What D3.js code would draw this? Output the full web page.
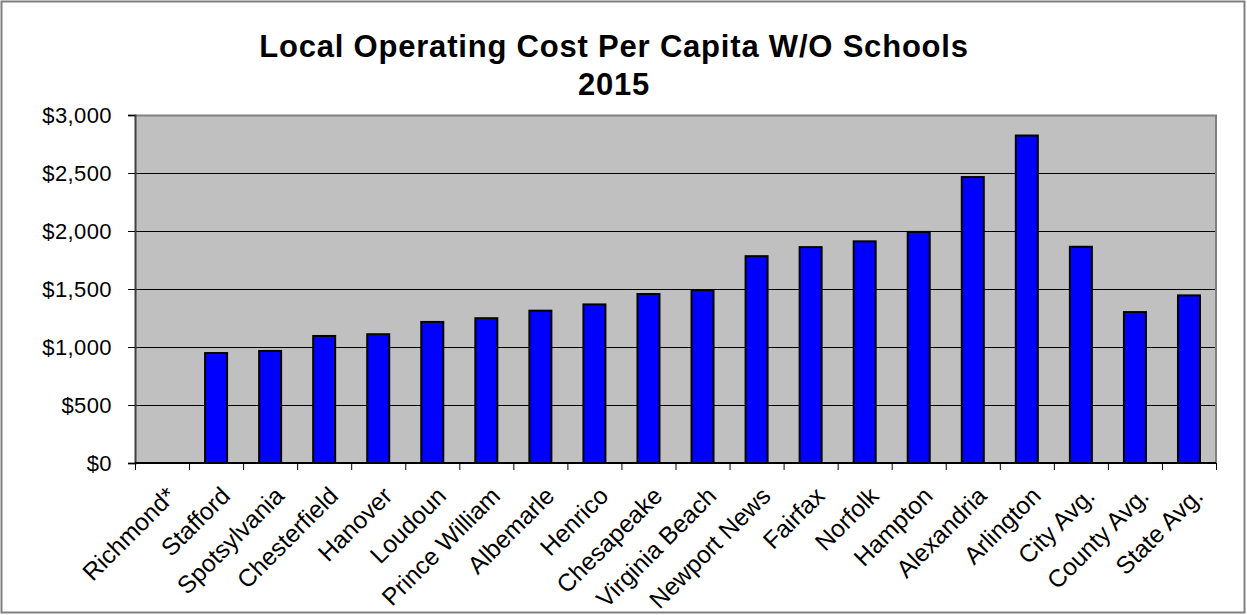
<!DOCTYPE html>
<html>
<head>
  <meta charset="UTF-8">
  <title>Local Operating Cost Per Capita W/O Schools</title>
  <script src="https://d3js.org/d3.v7.min.js"></script>
  <style>
    body { margin: 0; background: #fff; }
    svg { display: block; font-family: "Liberation Sans", Arial, sans-serif; }
    .title { font-size: 31px; font-weight: bold; letter-spacing: 0.8px; }
    .tick text { font-size: 22px; letter-spacing: 0.4px; fill: #000; }
    .xlabel { font-size: 24.5px; }
    .grid-line { stroke: #000; stroke-width: 1; }
    .bar { fill: #0000ff; stroke: #000; stroke-width: 2; }
  </style>
</head>
<body>
  <svg width="1247" height="615"></svg>

  <script>
    const localities = ["Richmond*", "Stafford", "Spotsylvania", "Chesterfield", "Hanover",
      "Loudoun", "Prince William", "Albemarle", "Henrico", "Chesapeake", "Virginia Beach",
      "Newport News", "Fairfax", "Norfolk", "Hampton", "Alexandria", "Arlington",
      "City Avg.", "County Avg.", "State Avg."];
    // Richmond has no value shown
    const costPerCapita = [null, 948, 966, 1095, 1110, 1216, 1248, 1313, 1367, 1457, 1490,
      1783, 1861, 1911, 1992, 2465, 2823, 1864, 1301, 1445];
    const yTicks = [0, 500, 1000, 1500, 2000, 2500, 3000];
    const titleLines = ["Local Operating Cost Per Capita W/O Schools", "2015"];

    const svg = d3.select("svg");
    const margin = { top: 115, right: 31, bottom: 152, left: 135 };
    const width = svg.attr("width") - margin.left - margin.right;
    const height = svg.attr("height") - margin.top - margin.bottom;

    // outer chart border
    svg.append("rect")
      .attr("x", 1.5).attr("y", 1.5)
      .attr("width", 1243).attr("height", 611)
      .attr("fill", "none")
      .attr("stroke", "#808080")
      .attr("stroke-width", 2);

    svg.selectAll(".title")
      .data(titleLines)
      .enter()
      .append("text")
      .attr("class", "title")
      .attr("x", 614)
      .attr("y", (d, i) => 57 + i * 38)
      .attr("text-anchor", "middle")
      .text(d => d);

    const data = localities.map((name, i) => ({ name: name, value: costPerCapita[i] }));

    const xScale = d3.scaleBand()
      .domain(localities)
      .range([0, width]);

    const yScale = d3.scaleLinear()
      .domain([0, 3000])
      .range([height, 0]);

    const g = svg.append("g")
      .attr("transform", `translate(${margin.left},${margin.top})`);

    g.append("rect")
      .attr("width", width)
      .attr("height", height)
      .attr("fill", "#c0c0c0");

    g.selectAll(".grid-line")
      .data(yTicks.filter(d => d > 0 && d < 3000))
      .enter()
      .append("line")
      .attr("class", "grid-line")
      .attr("x1", 0)
      .attr("x2", width)
      .attr("y1", d => Math.round(yScale(d)) + 0.5)
      .attr("y2", d => Math.round(yScale(d)) + 0.5);

    // plot border, top and right
    g.append("path")
      .attr("d", `M0,0.5H${width}V${height}`)
      .attr("fill", "none")
      .attr("stroke", "#808080")
      .attr("stroke-width", 2);

    const barWidth = 22;
    g.selectAll(".bar")
      .data(data.filter(d => d.value != null))
      .enter()
      .append("rect")
      .attr("class", "bar")
      .attr("x", d => xScale(d.name) + xScale.bandwidth() / 2 - barWidth / 2)
      .attr("y", d => yScale(d.value))
      .attr("width", barWidth)
      .attr("height", d => height - yScale(d.value));

    const yAxis = g.append("g")
      .attr("class", "y axis")
      .call(d3.axisLeft(yScale)
        .tickValues(yTicks)
        .tickSize(7)
        .tickPadding(16)
        .tickFormat(d => "$" + d3.format(",")(d)));
    yAxis.select(".domain").attr("stroke", "#404040").attr("stroke-width", 2);
    yAxis.selectAll(".tick line").attr("stroke", "#000");

    // x axis: ticks sit on band edges like Excel
    const xAxis = g.append("g")
      .attr("class", "x axis")
      .attr("transform", `translate(0,${height})`);
    xAxis.append("line")
      .attr("x1", 0).attr("x2", width)
      .attr("stroke", "#000").attr("stroke-width", 2);
    xAxis.selectAll(".xtick")
      .data(localities.concat(["__end"]))
      .enter()
      .append("line")
      .attr("class", "xtick")
      .attr("x1", (d, i) => i * xScale.bandwidth() + 0.5)
      .attr("x2", (d, i) => i * xScale.bandwidth() + 0.5)
      .attr("y1", 0).attr("y2", 7)
      .attr("stroke", "#000");

    xAxis.selectAll(".xlabel")
      .data(localities)
      .enter()
      .append("text")
      .attr("class", "xlabel")
      .attr("transform", d => `translate(${xScale(d) + xScale.bandwidth() / 2 + 3},22) rotate(-45)`)
      .attr("text-anchor", "end")
      .attr("dy", "0.72em")
      .text(d => d);
  </script>
</body>
</html>
